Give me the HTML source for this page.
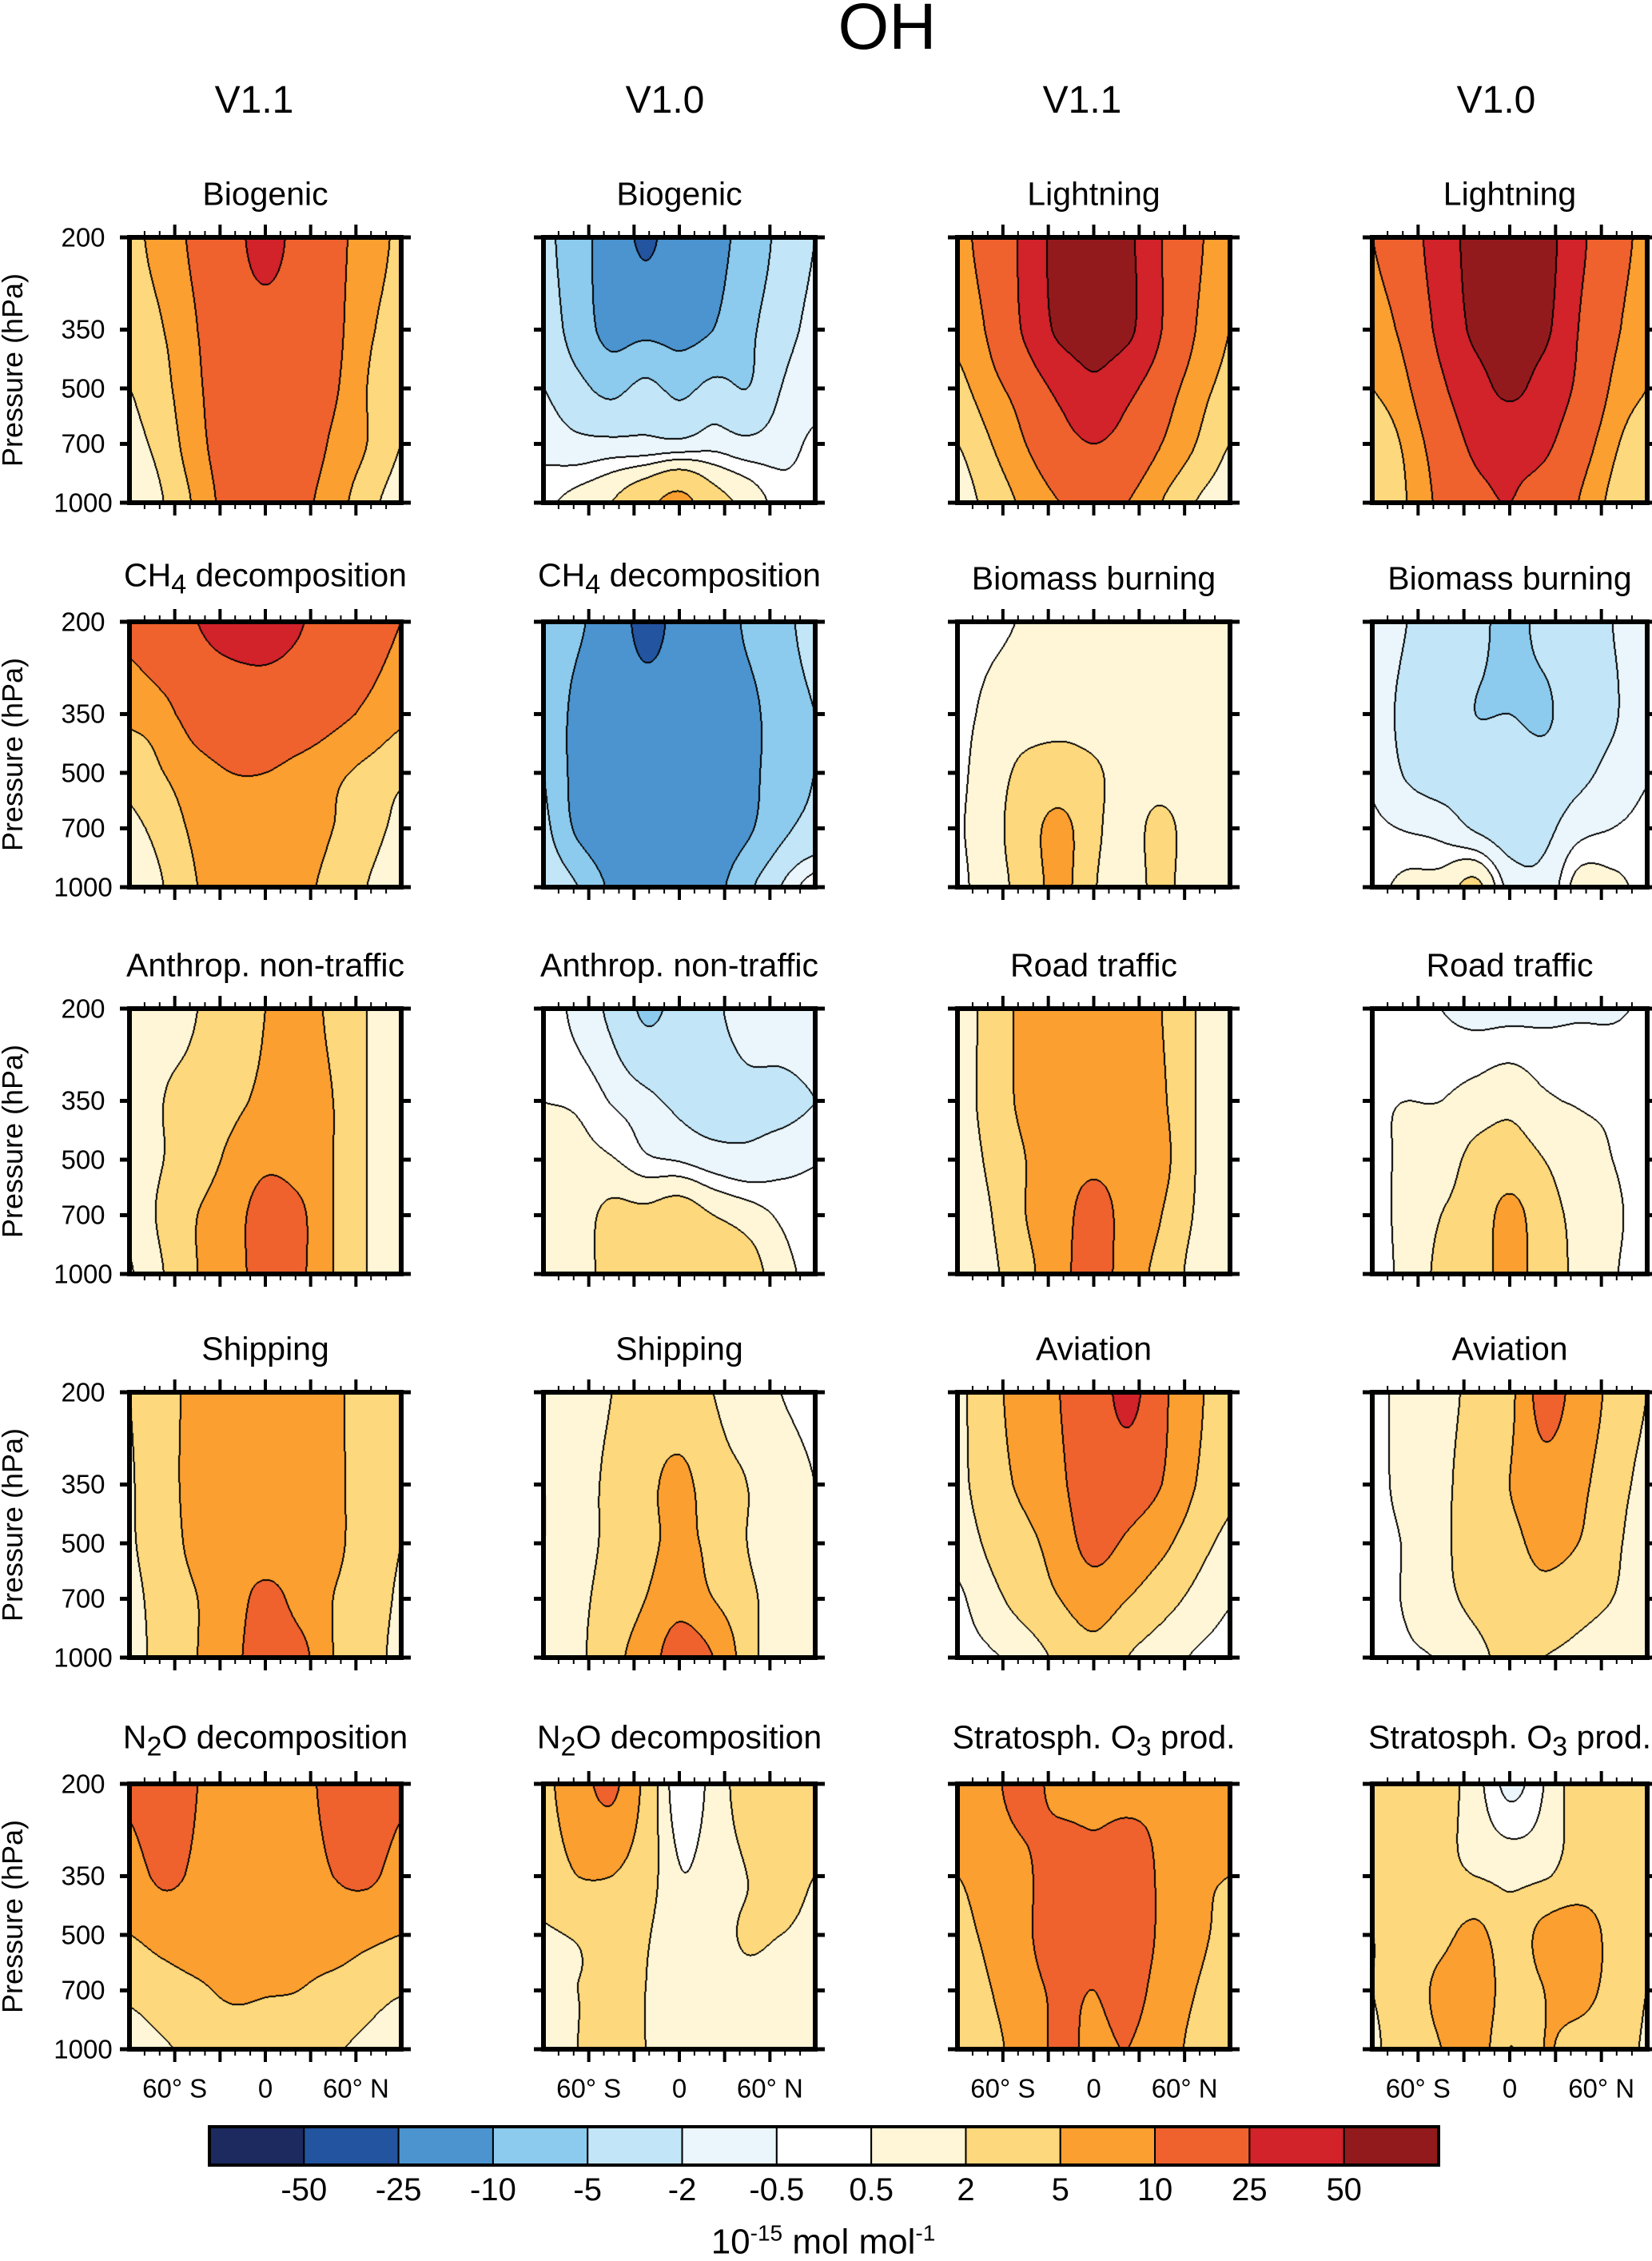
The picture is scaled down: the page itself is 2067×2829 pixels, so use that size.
<!DOCTYPE html>
<html><head><meta charset="utf-8">
<style>
body{margin:0;background:#fff;}
#root{position:relative;width:2067px;height:2826px;overflow:hidden;font-family:"Liberation Sans",sans-serif;color:#000;}
.t{position:absolute;white-space:nowrap;transform:translate(-50%,-50%);line-height:1;}
canvas{position:absolute;}
</style></head>
<body>
<div id="root">
<div class="t" style="left:1110px;top:34px;font-size:82px">OH</div>
<div class="t" style="left:318px;top:126px;font-size:48px">V1.1</div>
<div class="t" style="left:832px;top:126px;font-size:48px">V1.0</div>
<div class="t" style="left:1354px;top:126px;font-size:48px">V1.1</div>
<div class="t" style="left:1872px;top:126px;font-size:48px">V1.0</div>
<svg id="svg" width="2067" height="2826" style="position:absolute;left:0;top:0"></svg>
</div>
<script>
// ---- data ----
const levelBounds = [-50,-25,-10,-5,-2,-0.5,0.5,2,5,10,25,50];
const levelColors = ["#1c2a60","#23549f","#4b94cf","#8ccbee","#c2e6f7","#eaf6fb","#ffffff","#fef6d6","#fdd87c","#fb9f30","#ef622d","#d2222a","#931a1c"];
const colorbarLabels = ["-50","-25","-10","-5","-2","-0.5","0.5","2","5","10","25","50"];
const pressureLevels = [200,350,500,700,1000];
const latTicks = [-60,0,60];
const latTickLabels = ["60° S","0","60° N"];
const latGrid = [-90,-67.5,-45,-22.5,0,22.5,45,67.5,90];
const panelTitles = ["Biogenic","Biogenic","Lightning","Lightning",
 "CH<sub>4</sub> decomposition","CH<sub>4</sub> decomposition","Biomass burning","Biomass burning",
 "Anthrop. non-traffic","Anthrop. non-traffic","Road traffic","Road traffic",
 "Shipping","Shipping","Aviation","Aviation",
 "N<sub>2</sub>O decomposition","N<sub>2</sub>O decomposition","Stratosph. O<sub>3</sub> prod.","Stratosph. O<sub>3</sub> prod."];
const p1=[[4,7,12,20,30,20,12,8,4],[3,5,10,18,20,18,12,6,3],[2,4,9,16,18,16,11,5,2.5],[1.5,3,8,15,17,15,9,5,2],[1,2,6,13,14,12,7,3,1]];
const p2=[[-4,-8,-14,-28,-15,-12,-8,-4,-2],[-3,-7,-12,-12,-12,-10,-6,-3,-1.5],[-2,-4,-6,-4,-6,-4,-5,-2,-1],[-1,-1.5,-1.5,-1.5,-1.5,-1,-1.5,-1,-0.3],[0.3,1,2,4,6,3,1.5,0,-0.2]];
const p3=[[8,15,30,60,60,55,25,12,6],[6,12,28,55,60,55,25,10,5],[4,8,15,30,45,30,15,7,4],[2,5,10,18,25,18,10,5,2],[1,3,6,10,12,10,5,2,1]];
const p4=[[10,18,35,60,60,60,30,15,8],[7,13,30,55,60,55,25,12,6],[5,9,22,40,55,40,22,9,5],[3,6,15,28,30,28,15,6,3],[2,5,12,22,25,20,10,4,2]];
const p5=[[12,18,25,30,30,26,18,14,10],[6,8,14,16,18,16,12,9,6],[3,5,8,10,10,8,6,4,2.5],[1.5,3,6,8,8,7,5,3,1.5],[1,2,5,7,8,6,4,2,1]];
const p6=[[-6,-9,-15,-30,-20,-15,-9,-6,-4],[-5,-12,-15,-18,-18,-15,-12,-7,-5],[-5,-12,-15,-17,-17,-16,-12,-7,-5],[-4,-11,-15,-16,-16,-15,-11,-6,-4],[-2,-5,-11,-14,-14,-12,-6,-2,0.3]];
const p7=[[0,0.3,0.6,1,0.8,1,1.2,1,0.8],[0.2,0.8,1.2,1.6,1.4,1.2,1.2,1.0,0.8],[0.3,1.2,2.5,2.8,2.2,1.5,1.2,1,0.7],[0.4,1.3,3.5,6,2.5,1.4,2.5,1,0.7],[0.3,1.2,3,6,2.2,1.2,2.5,0.8,0.6]];
const p8=[[-1,-2,-3,-4,-6,-4,-3,-2,-1],[-1.2,-2.5,-3.5,-5,-5,-5.5,-3,-2.2,-1],[-0.7,-2.2,-3,-3,-3,-3.5,-2.5,-1.5,-0.6],[-0.3,-0.6,-1,-2.2,-3,-2.5,-1,-0.5,-0.2],[0.2,0.8,1,2.5,-1,-1.5,1,0.8,0.2]];
const p9=[[1,1.5,2,3,5,7,4,2,1],[1,2,2.5,4,6,8,5,2,1],[0.8,2,3,6,9,8,5,2,0.8],[0.8,2.5,5,8,12,11,5,2,0.7],[0.4,2,5,8,12,11,5,2,0.5]];
const p10=[[0.3,-1,-2.5,-5.5,-4,-2.5,-1,-0.7,-0.5],[0.5,0.3,-0.6,-1.5,-2.5,-3,-2.5,-2.5,-2],[0.7,0.8,0.6,-0.3,-0.6,-1.2,-1.5,-1,-0.6],[0.6,1.2,2.5,2.5,3,2,1.2,0.3,-0.2],[0.5,1,3,4,2.5,4,3,1,0.2]];
const p11=[[1,3,6,7,7,7,5,2,0.8],[1.2,3,6,8,8,8,5.5,2,1],[1,2.5,5,8,9,8,6,2,1],[0.8,2,5,8,12,8,5,1.8,0.8],[0.6,1.6,4,8,13,7,4,1.2,0.6]];
const p12=[[0.3,-0.2,-0.5,-0.8,-0.8,-0.7,-0.6,-0.6,-0.4],[0.4,0.5,0.5,1,1.5,0.7,0.4,0.3,0.2],[0.3,0.7,1.2,2.5,3,2,1,0.5,0.2],[0.3,0.8,2,3,6,3,1.5,0.7,0.2],[0.3,0.8,2.5,3.5,6,3.5,1.5,0.6,0.2]];
const p13=[[2,4,6,8,8,8,6,3,2],[1.8,4,6,7,7,7,6,3,2],[1.8,3.5,6,7,6,7,6,3,2],[1.5,3,5,7,12,8,5,3,1.8],[1.2,3,5,8,14,12,5,3,1.5]];
const p14=[[0.6,1,2,3,2.5,2,1,0.5,0.3],[0.5,1.2,2.5,4,6,3,2,1,0.5],[0.5,1.3,2.5,4,6,4,2,1,0.5],[0.7,1.5,3,5,8,5,2.5,1.3,0.6],[0.8,1.5,4,7,13,10,3,1.3,0.6]];
const p15=[[1.5,4,7,10,15,30,12,6,3],[1.5,3.5,6,9,14,15,10,5,2.5],[1,2.5,4,7,12,9,6,3,1.5],[0.3,1.5,3,5,7,5,3,1.5,0.6],[0.2,0.4,1,2.5,4,2,1,0.4,0.2]];
const p16=[[0.3,0.8,1.5,2.5,4,12,8,4,2],[0.3,0.8,1.6,3,5,8,6,3,1.5],[0.3,0.6,1.6,3,4,6,5,2.5,1.2],[0.3,0.6,1.5,2.5,3.5,4,3,2,1],[0.2,0.4,0.6,1.5,2.5,2,1.5,0.8,0.5]];
const p17=[[11,14,10,8,7,8,12,14,11],[8,11,9,7,6,7,10,11,8],[5,6.5,7,6,5.5,6,7,6,5],[2.5,3.5,4.5,5.5,5.2,5,4,3,2.2],[1.2,1.8,2.5,3,3,2.8,2.2,1.6,1.0]];
const p18=[[4,8,11,4,-0.3,1,3,4,3],[3,5,5,3,0.6,1.2,2,3,2],[1.8,2.2,3,2.2,0.8,1.3,2.2,2,1.5],[1.5,2,2.2,2,0.8,1.2,1.5,1.2,1],[1.5,2,2.2,2,0.8,1,1.2,0.8,0.6]];
const p19=[[7,9,12,8,8,8,9,8,7],[5,7,9,14,12,14,9,6,5],[4,6,9,14,12,14,9,6,4],[3,5,8,11,10,12,8,5,3],[2,4,7,11,9,10,7,4,2]];
const p20=[[3,4,3,1,-0.8,0.5,3,4,3],[2.5,3,2.5,2,1.5,1.8,3,3.5,2.5],[2,3,4,6,3,6,7,4,2.5],[2,3,6,8,3,5,6,4,2],[1.8,3,5,7,2,5,4,3,1.8]];
const panelData=[p1,p2,p3,p4,p5,p6,p7,p8,p9,p10,p11,p12,p13,p14,p15,p16,p17,p18,p19,p20];

// ---- layout ----
const colX=[162,680,1198,1717], colW=[340,340,341,344];
const rowY=[297,778,1262,1742,2232], rowH=332;
const NS='http://www.w3.org/2000/svg';
const svg=document.getElementById('svg');
const root=document.getElementById('root');
function sv(tag,attrs,parent){const e=document.createElementNS(NS,tag);for(const k in attrs)e.setAttribute(k,attrs[k]);(parent||svg).appendChild(e);return e;}
function yFrac(p){return Math.log(p/200)/Math.log(5);}
function band(v){let b=0;while(b<levelBounds.length&&v>levelBounds[b])b++;return b;}
function hex(c){return [parseInt(c.slice(1,3),16),parseInt(c.slice(3,5),16),parseInt(c.slice(5,7),16)];}
const rgb=levelColors.map(hex);
const levFr=pressureLevels.map(yFrac);
function cr(p0,p1,p2,p3,t){return 0.5*((2*p1)+(-p0+p2)*t+(2*p0-5*p1+4*p2-p3)*t*t+(-p0+3*p1-3*p2+p3)*t*t*t);}
function sample(d,fx,fy){
  const nx=latGrid.length,ny=levFr.length;
  const gx=fx*(nx-1);let i=Math.min(Math.floor(gx),nx-2);const tx=gx-i;
  let j=0;while(j<ny-2&&fy>levFr[j+1])j++;const ty=(fy-levFr[j])/(levFr[j+1]-levFr[j]);
  const row=jj=>{jj=Math.max(0,Math.min(ny-1,jj));const r=d[jj];const g=ii=>r[Math.max(0,Math.min(nx-1,ii))];return cr(g(i-1),g(i),g(i+1),g(i+2),tx);};
  return cr(row(j-1),row(j),row(j+1),row(j+2),ty);
}
for(let k=0;k<20;k++){
  const r=Math.floor(k/4),c=k%4;const X=colX[c],Y=rowY[r],W=colW[c],H=rowH;const d=panelData[k];
  const cv=document.createElement('canvas');cv.width=W;cv.height=H;cv.style.left=X+'px';cv.style.top=Y+'px';
  
  
  root.insertBefore(cv,svg);
  const ctx=cv.getContext('2d');const img=ctx.createImageData(W,H);
  const B=new Uint8Array(W*H);
  for(let y=0;y<H;y++)for(let x=0;x<W;x++)B[y*W+x]=band(sample(d,x/(W-1),y/(H-1)));
  for(let y=0;y<H;y++)for(let x=0;x<W;x++){
    const b=B[y*W+x];let edge=false;
    if(x<W-1&&B[y*W+x+1]!=b)edge=true;if(y<H-1&&B[(y+1)*W+x]!=b)edge=true;
    if(x>0&&B[y*W+x-1]!=b)edge=true;if(y>0&&B[(y-1)*W+x]!=b)edge=true;
    const col=edge?[0,0,0]:rgb[b];const o=(y*W+x)*4;
    img.data[o]=col[0];img.data[o+1]=col[1];img.data[o+2]=col[2];img.data[o+3]=255;
  }
  ctx.putImageData(img,0,0);
  sv('rect',{x:X,y:Y,width:W,height:H,fill:'none',stroke:'#000','stroke-width':6,});
  for(let lat=-80;lat<=80;lat+=10){
    const tx=X+(lat+90)/180*W;const L=(lat%30===0)?16:8;
    sv('line',{x1:tx,x2:tx,y1:Y,y2:Y-L,stroke:'#000','stroke-width':(lat%30===0)?4:2,});
    sv('line',{x1:tx,x2:tx,y1:Y+H,y2:Y+H+L,stroke:'#000','stroke-width':(lat%30===0)?4:2,});
  }
  pressureLevels.forEach(p=>{const ty=Y+yFrac(p)*H;
    sv('line',{x1:X,x2:X-12,y1:ty,y2:ty,stroke:'#000','stroke-width':5,});
    sv('line',{x1:X+W,x2:X+W+12,y1:ty,y2:ty,stroke:'#000','stroke-width':5,});
  });
  const t=document.createElement('div');t.className='t';t.style.left=(X+W/2)+'px';t.style.top=(Y-54)+'px';t.style.fontSize='41px';t.innerHTML=panelTitles[k];
  
  
  root.appendChild(t);
  if(c===0){
    pressureLevels.forEach(p=>{const l=document.createElement('div');l.className='t';l.style.left='104px';l.style.top=(Y+yFrac(p)*H)+'px';l.style.fontSize='33px';l.textContent=p;
      
      
      root.appendChild(l);});
    const a=document.createElement('div');a.className='t';a.style.left='16px';a.style.top=(Y+H/2)+'px';a.style.fontSize='36px';a.style.transform='translate(-50%,-50%) rotate(-90deg)';a.textContent='Pressure (hPa)';
    
    
    root.appendChild(a);
  }
  if(r===4){
    latTicks.forEach((lat,i)=>{const l=document.createElement('div');l.className='t';l.style.left=(X+(lat+90)/180*W)+'px';l.style.top='2613px';l.style.fontSize='33px';l.textContent=latTickLabels[i];
      
      
      root.appendChild(l);});
  }
}
const cbX=262,cbW=1538,cbY=2661,cbH=48,n=levelColors.length;
levelColors.forEach((col,i)=>{
  sv('rect',{x:cbX+i*cbW/n,y:cbY,width:cbW/n,height:cbH,fill:col,stroke:'#000','stroke-width':2,});
});
sv('rect',{x:cbX,y:cbY,width:cbW,height:cbH,fill:'none',stroke:'#000','stroke-width':4,});
colorbarLabels.forEach((s,i)=>{const l=document.createElement('div');l.className='t';l.style.left=(cbX+(i+1)*cbW/n)+'px';l.style.top='2740px';l.style.fontSize='40px';l.textContent=s;
  
  
  root.appendChild(l);});
</script>
<div class="t" style="position:absolute;left:1030px;top:2804px;font-size:44px;font-family:'Liberation Sans',sans-serif">10<sup style="font-size:28px">-15</sup> mol mol<sup style="font-size:28px">-1</sup></div>
</body></html>
